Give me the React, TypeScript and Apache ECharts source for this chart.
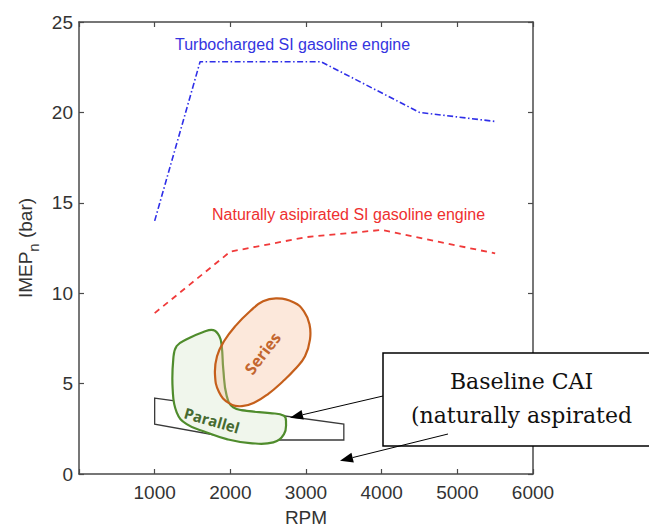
import React, { useEffect, useRef } from 'react';
import * as echarts from 'echarts';

// ---- data ----
const rpmTurbo = [1000, 1600, 3200, 4500, 5500];
const imepTurbo = [14.0, 22.8, 22.8, 20.0, 19.5];

const rpmNA = [1000, 2000, 3000, 4000, 5500];
const imepNA = [8.9, 12.3, 13.1, 13.5, 12.2];

// outlines of the operating regions, [RPM, IMEPn]
const seriesRegion = [
  [2617, 9.71], [2841, 9.49], [2973, 9.0], [3046, 8.28], [3053, 7.45], [2987, 6.51],
  [2854, 5.79], [2696, 5.13], [2498, 4.42], [2326, 3.97], [2154, 3.75], [1982, 3.92],
  [1850, 4.53], [1797, 5.52], [1824, 6.51], [1916, 7.34], [2075, 8.22], [2260, 9.0],
  [2432, 9.55],
];
const parallelRegion = [
  [1775, 7.96], [1854, 7.63], [1886, 7.08], [1907, 5.79], [1952, 4.32], [2039, 3.68],
  [2216, 3.49], [2524, 3.37], [2709, 3.22], [2736, 2.85], [2709, 2.21], [2568, 1.75],
  [2260, 1.71], [1952, 1.93], [1688, 2.3], [1423, 2.76], [1291, 3.41], [1238, 4.69],
  [1246, 6.35], [1291, 7.08], [1423, 7.45], [1643, 7.85],
];
const baselineRegion = [
  [1000, 4.2], [3500, 2.76], [3500, 1.88], [2160, 1.88], [1000, 2.76],
];

const curveLabels = ['Turbocharged SI gasoline engine', 'Naturally asipirated SI gasoline engine'];
const curveLabelPos = [[1269, 23.73], [1758, 14.35]];

const regionLabels = ['Series', 'Parallel'];
const regionLabelPos = [[2425, 6.68], [1758, 2.98]];

const xMin = 0, xMax = 6000, xStep = 1000;
const yMin = 0, yMax = 25, yStep = 5;

const SANS = 'Liberation Sans, Arial, sans-serif';
const AXIS_COLOR = '#4a4a4a';

function regionSeries(pts: number[][], stroke: string, fill: string, width: number, smooth: number, z: number) {
  return {
    type: 'custom',
    coordinateSystem: 'cartesian2d',
    data: pts,
    encode: { x: 0, y: 1 },
    z,
    silent: true,
    clip: false,
    renderItem: (params: any, api: any) => {
      if (params.dataIndex !== 0) return null;
      const points = pts.map((p) => api.coord(p));
      return {
        type: 'polygon',
        shape: { points, smooth },
        style: { fill, stroke, lineWidth: width },
      };
    },
  };
}

function textSeries(pos: number[][], texts: string[], styles: any[], rotations: number[], z: number) {
  return {
    type: 'custom',
    coordinateSystem: 'cartesian2d',
    data: pos,
    encode: { x: 0, y: 1 },
    z,
    silent: true,
    clip: false,
    renderItem: (params: any, api: any) => {
      const i = params.dataIndex;
      const [x, y] = api.coord(pos[i]);
      return {
        type: 'text',
        x,
        y,
        rotation: rotations[i],
        style: { text: texts[i], ...styles[i] },
      };
    },
  };
}

function arrow(tx: number, ty: number, hx: number, hy: number) {
  const dx = hx - tx, dy = hy - ty;
  const L = Math.hypot(dx, dy);
  const ux = dx / L, uy = dy / L;
  const len = 13, w = 5;
  const bx = hx - ux * len, by = hy - uy * len;
  return [
    { type: 'line', z: 101, shape: { x1: tx, y1: ty, x2: bx, y2: by }, style: { stroke: '#000', lineWidth: 1 } },
    {
      type: 'polygon', z: 101,
      shape: { points: [[hx, hy], [bx - uy * w, by + ux * w], [bx + uy * w, by - ux * w]] },
      style: { fill: '#000' },
    },
  ];
}

export default function App() {
  const ref = useRef<HTMLDivElement>(null);
  useEffect(() => {
    if (!ref.current) return;
    const chart = echarts.init(ref.current, undefined, { renderer: 'svg' });
    const axisLine = { show: true, onZero: false, lineStyle: { color: AXIS_COLOR, width: 1.5 } };
    const axisTick = { show: true, inside: true, length: 5, lineStyle: { color: AXIS_COLOR, width: 1.2 } };
    chart.setOption({
      animation: false,
      backgroundColor: '#fff',
      grid: { left: 79, top: 22, right: 116, bottom: 57, containLabel: false },
      xAxis: [
        {
          type: 'value', min: xMin, max: xMax, interval: xStep, position: 'bottom',
          axisLine, axisTick, splitLine: { show: false },
          axisLabel: {
            formatter: (v: number) => (v === 0 ? '' : String(v)),
            fontSize: 19, color: '#333', fontFamily: SANS, margin: 9,
          },
          name: 'RPM', nameLocation: 'middle', nameGap: 34,
          nameTextStyle: { fontSize: 19, color: '#333', fontFamily: SANS },
        },
        {
          type: 'value', min: xMin, max: xMax, interval: xStep, position: 'top',
          axisLine, axisTick, splitLine: { show: false }, axisLabel: { show: false },
        },
      ],
      yAxis: [
        {
          type: 'value', min: yMin, max: yMax, interval: yStep, position: 'left',
          axisLine, axisTick, splitLine: { show: false },
          axisLabel: { fontSize: 19, color: '#333', fontFamily: SANS, margin: 6 },
          name: '{a|IMEP}{b|n}{a| (bar)}', nameLocation: 'middle', nameGap: 36,
          nameTextStyle: {
            rich: {
              a: { fontSize: 19, color: '#333', fontFamily: SANS, lineHeight: 30, verticalAlign: 'middle' },
              b: { fontSize: 15, color: '#333', fontFamily: SANS, lineHeight: 30, verticalAlign: 'bottom' },
            },
          },
        },
        {
          type: 'value', min: yMin, max: yMax, interval: yStep, position: 'right',
          axisLine, axisTick, splitLine: { show: false }, axisLabel: { show: false },
        },
      ],
      series: [
        regionSeries(baselineRegion, '#3a3a3a', 'none', 1.3, 0, 3),
        regionSeries(parallelRegion, '#4f8c2c', '#f0f6ec', 2.2, 0.45, 4),
        regionSeries(seriesRegion, '#c55f1b', 'rgba(245,186,145,0.33)', 2.2, 0.45, 5),
        textSeries(
          regionLabelPos, regionLabels,
          [
            { fill: '#c3662f', fontSize: 16, fontWeight: 'bold', fontFamily: 'Open Sans, sans-serif', align: 'center', verticalAlign: 'middle' },
            { fill: '#466a30', fontSize: 15, fontWeight: 'bold', fontFamily: 'Open Sans, sans-serif', align: 'center', verticalAlign: 'middle' },
          ],
          [0.92, -0.28], 6,
        ),
        {
          type: 'line', name: 'Turbocharged',
          data: rpmTurbo.map((r, i) => [r, imepTurbo[i]]),
          showSymbol: false, symbol: 'none', z: 7,
          lineStyle: { color: '#2f2fe8', width: 1.6, type: [6, 2.5, 1.5, 2.5] },
        },
        {
          type: 'line', name: 'Naturally aspirated',
          data: rpmNA.map((r, i) => [r, imepNA[i]]),
          showSymbol: false, symbol: 'none', z: 7,
          lineStyle: { color: '#f03a3a', width: 1.8, type: [6, 5] },
        },
        textSeries(
          curveLabelPos, curveLabels,
          [
            { fill: '#3535e0', fontSize: 16, fontFamily: SANS, align: 'left', verticalAlign: 'middle' },
            { fill: '#ee3030', fontSize: 16, fontFamily: SANS, align: 'left', verticalAlign: 'middle' },
          ],
          [0, 0], 8,
        ),
      ],
      graphic: [
        {
          type: 'rect', z: 100,
          shape: { x: 383, y: 353, width: 290, height: 93 },
          style: { fill: '#fff', stroke: '#000', lineWidth: 1.5 },
        },
        {
          type: 'text', z: 101, x: 521.5, y: 381,
          style: { text: 'Baseline CAI', fill: '#111', fontSize: 22, fontFamily: 'DejaVu Serif, serif', align: 'center', verticalAlign: 'middle' },
        },
        {
          type: 'text', z: 101, x: 521.5, y: 415,
          style: { text: '(naturally aspirated', fill: '#111', fontSize: 22, fontFamily: 'DejaVu Serif, serif', align: 'center', verticalAlign: 'middle' },
        },
        ...arrow(383, 396, 290, 417.7),
        ...arrow(448, 434, 340, 460.7),
      ],
    });
    return () => chart.dispose();
  }, []);
  return <div ref={ref} style={{ position: 'fixed', left: 0, top: 0, width: 649, height: 532 }} />;
}
